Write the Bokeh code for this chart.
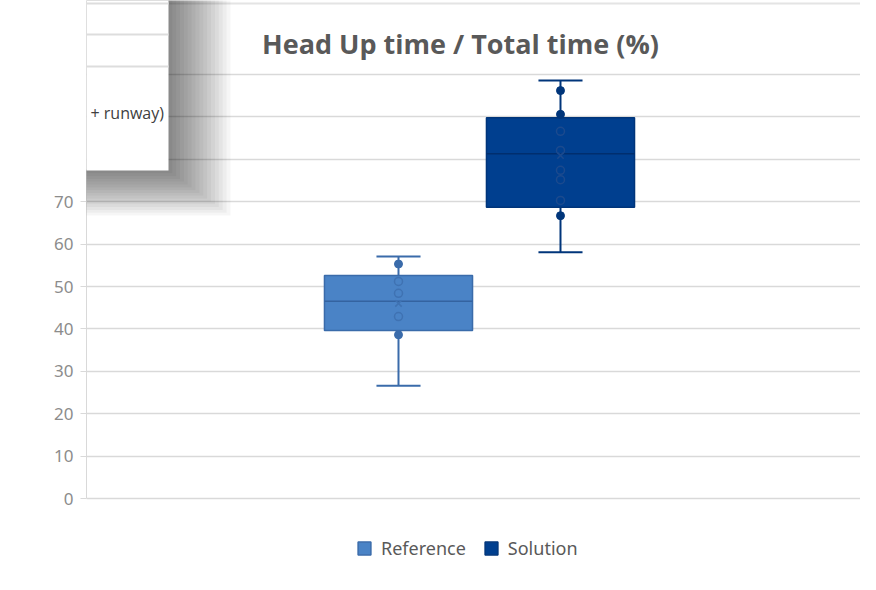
from bokeh.plotting import figure
from bokeh.models import Range1d, FixedTicker, Legend, LegendItem, Label, BoxAnnotation
from bokeh.embed import file_html
from bokeh.resources import INLINE

# ---------------- data ----------------
series = ["Reference", "Solution"]
whisker_low = [26.6, 58.1]
q1 = [39.6, 68.7]
median = [46.5, 81.3]
q3 = [52.6, 89.8]
whisker_high = [57.1, 98.6]
means = [46.0, 80.9]
filled_points = [[55.3, 38.6], [96.2, 90.6, 66.7]]
hollow_points = [[51.2, 48.4, 42.9], [86.6, 82.1, 77.4, 75.2, 70.3]]
grid_ticks = [0, 10, 20, 30, 40, 50, 60, 70, 80, 90, 100]
visible_tick_labels = [0, 10, 20, 30, 40, 50, 60, 70]   # 80-100 are hidden behind the window
title_text = "Head Up time / Total time (%)"
overlay_text = "+ runway)"

# ---------------- styles ----------------
fill_colors = ["#4A83C6", "#003F8F"]
line_colors = ["#3A6BAA", "#00357A"]
median_colors = ["#3463A0", "#002E6E"]
hollow_colors = ["#3F72B2", "#1B4A8E"]
GRID = "#D9D9D9"
TEXT = "#595959"

W, H = 860, 574
LEFT = 86
xs = list(range(len(series)))
box_w = 0.914
cap_half = 0.136

p = figure(width=W, height=H, output_backend="svg", toolbar_location=None,
           x_range=Range1d(-1.926, 2.852), y_range=Range1d(-17.92, 117.45),
           min_border_left=LEFT, min_border_right=0, min_border_top=0, min_border_bottom=0)
p.outline_line_color = None
p.background_fill_color = "white"
p.border_fill_color = "white"
p.xaxis.visible = False
p.xgrid.grid_line_color = None
p.ygrid.ticker = FixedTicker(ticks=grid_ticks)
p.ygrid.grid_line_color = GRID
p.ygrid.grid_line_width = 1.5
p.yaxis.ticker = FixedTicker(ticks=visible_tick_labels)
p.yaxis.bounds = (0, 77.5)
p.yaxis.axis_line_color = GRID
p.yaxis.major_tick_line_color = GRID
p.yaxis.major_tick_out = 6
p.yaxis.major_tick_in = 0
p.yaxis.minor_tick_line_color = None
p.yaxis.major_label_text_color = "#8C8C8C"
p.yaxis.major_label_text_font = "Noto Sans"
p.yaxis.major_label_text_font_size = "17px"
p.yaxis.major_label_standoff = 7

# whiskers
p.segment(x0=xs, x1=xs, y0=q3, y1=whisker_high, line_color=line_colors, line_width=2)
p.segment(x0=xs, x1=xs, y0=whisker_low, y1=q1, line_color=line_colors, line_width=2)
p.segment(x0=[x - cap_half for x in xs], x1=[x + cap_half for x in xs],
          y0=whisker_high, y1=whisker_high, line_color=line_colors, line_width=2)
p.segment(x0=[x - cap_half for x in xs], x1=[x + cap_half for x in xs],
          y0=whisker_low, y1=whisker_low, line_color=line_colors, line_width=2)

# boxes
boxes = p.vbar(x=xs, width=box_w, bottom=q1, top=q3, fill_color=fill_colors,
               line_color=line_colors, line_width=1.5)
# medians
p.segment(x0=[x - box_w / 2 for x in xs], x1=[x + box_w / 2 for x in xs],
          y0=median, y1=median, line_color=median_colors, line_width=1.5)

# points
fx, fy, fc = [], [], []
hx, hy, hc = [], [], []
for i, x in enumerate(xs):
    for v in filled_points[i]:
        fx.append(x); fy.append(v); fc.append(line_colors[i])
    for v in hollow_points[i]:
        hx.append(x); hy.append(v); hc.append(hollow_colors[i])
p.scatter(x=hx, y=hy, size=8, marker="circle", fill_color=None, line_color=hc, line_width=1.5)
p.scatter(x=xs, y=means, size=9, marker="x", line_color=hollow_colors, line_width=1.5)
p.scatter(x=fx, y=fy, size=8, marker="circle", fill_color=fc, line_color=fc)

# helpers: page pixel -> frame screen coords (origin at frame bottom-left, y up)
def sx(px):
    return px - LEFT

def sy(py):
    return H - py

# legend
legend = Legend(items=[LegendItem(label=s, renderers=[boxes], index=i) for i, s in enumerate(series)],
                orientation="horizontal", location=(sx(356), sy(560)),
                glyph_width=16, glyph_height=16, label_height=16, label_standoff=9, spacing=17,
                padding=0, margin=0, border_line_color=None, background_fill_alpha=0,
                label_text_font="Noto Sans", label_text_font_size="18px", label_text_color=TEXT)
p.add_layout(legend, "center")

# title
p.add_layout(Label(x=sx(460), y=sy(43), x_units="screen", y_units="screen", text=title_text,
                   text_align="center", text_baseline="alphabetic", text_font="Open Sans",
                   text_font_style="bold", text_font_size="27px", text_color=TEXT))

# ---- screenshot surroundings: chart border, overlapping window with shadow ----
def sbox(l, r, t, b, color, alpha=1.0):
    p.add_layout(BoxAnnotation(left=sx(l), right=sx(r), bottom=sy(b), top=sy(t),
                               left_units="screen", right_units="screen",
                               bottom_units="screen", top_units="screen",
                               fill_color=color, fill_alpha=alpha, line_color=None,
                               level="overlay"))

sbox(168, 880, 2, 4, "#E4E4E4")          # chart border (top)
n = 16
for i in range(n):
    sbox(-20, 168 + 62 * (i + 1) / n, -20, 170 + 45 * (i + 1) / n, "black", 0.037)
sbox(-20, 168, -20, 170, "white")
for ly in (3, 34, 66):
    sbox(-20, 168, ly - 1, ly + 1, "#DDDDDD")
p.add_layout(Label(x=sx(90), y=sy(112), x_units="screen", y_units="screen", text=overlay_text,
                   text_align="left", text_baseline="alphabetic", text_font="Open Sans",
                   text_font_size="16px", text_color="#404040", level="overlay"))

open("out.html", "w").write(file_html(p, INLINE))
